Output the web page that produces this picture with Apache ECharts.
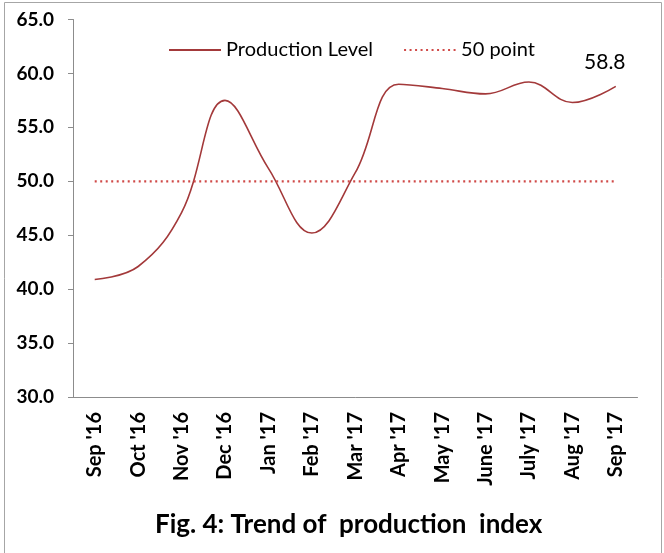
<!DOCTYPE html>
<html>
<head>
<meta charset="utf-8">
<script src="https://cdn.jsdelivr.net/npm/echarts@6/dist/echarts.min.js"></script>
<style>
  html, body { margin: 0; padding: 0; background: #fff; }
  #main { width: 664px; height: 553px; }
</style>
</head>
<body>
<div id="main"></div>
<script>
// data
var months = ["Sep '16", "Oct '16", "Nov '16", "Dec '16", "Jan '17", "Feb '17", "Mar '17",
  "Apr '17", "May '17", "June '17", "July '17", "Aug '17", "Sep '17"];
var production = [40.9, 42.1, 47.1, 57.5, 51.2, 45.2, 50.8, 59.0, 58.6, 58.1, 59.2, 57.3, 58.8];
var fiftyLine = [50, 50, 50, 50, 50, 50, 50, 50, 50, 50, 50, 50, 50];

var font = 'Lato, "Open Sans", sans-serif';

var myChart = echarts.init(document.getElementById('main'));
myChart.setOption({
  animation: false,
  textStyle: { fontFamily: font },
  title: {
    text: 'Fig. 4: Trend of  production  index',
    left: 150,
    top: 507,
    textStyle: { fontFamily: font, fontSize: 26, fontWeight: 'bold', color: '#000' }
  },
  graphic: [{
    type: 'rect',
    shape: { x: 4.5, y: 2.5, width: 657, height: 560 },
    style: { fill: 'none', stroke: '#a6a6a6', lineWidth: 1 },
    silent: true
  }],
  legend: {
    left: 163,
    top: 35,
    itemWidth: 52,
    itemHeight: 12,
    itemGap: 30,
    itemStyle: { opacity: 0, borderWidth: 0 },
    textStyle: { fontFamily: font, fontSize: 20, color: '#000' },
    data: ['Production Level', '50 point']
  },
  grid: { left: 73, right: 26.5, top: 19.5, bottom: 156 },
  xAxis: {
    type: 'category',
    data: months,
    boundaryGap: true,
    axisLine: { lineStyle: { color: '#8c8c8c' } },
    axisTick: { length: 6, lineStyle: { color: '#8c8c8c' } },
    axisLabel: {
      rotate: 90,
      margin: 15,
      interval: 0,
      fontFamily: font,
      fontSize: 20,
      fontWeight: 'bold',
      color: '#000'
    }
  },
  yAxis: {
    type: 'value',
    min: 30,
    max: 65,
    interval: 5,
    axisLine: { show: true, lineStyle: { color: '#8c8c8c' } },
    axisTick: { show: true, length: 5, lineStyle: { color: '#8c8c8c' } },
    splitLine: { show: false },
    axisLabel: {
      margin: 19,
      fontFamily: font,
      fontSize: 19,
      fontWeight: 'bold',
      color: '#000',
      formatter: function (v) { return v.toFixed(1); }
    }
  },
  series: [
    {
      name: 'Production Level',
      type: 'line',
      data: production,
      smooth: 0.4,
      symbol: 'none',
      color: '#a3393a',
      lineStyle: { width: 1.6, color: '#a3393a' },
      markPoint: {
        symbol: 'circle',
        symbolSize: 0,
        data: [{
          coord: [months.length - 1, production[production.length - 1]],
          value: production[production.length - 1]
        }],
        label: {
          show: true,
          position: 'top',
          offset: [-11, -9],
          fontFamily: font,
          fontSize: 21,
          color: '#000',
          formatter: function (p) { return p.value.toFixed(1); }
        }
      }
    },
    {
      name: '50 point',
      type: 'line',
      data: fiftyLine,
      symbol: 'none',
      color: '#d04a48',
      lineStyle: { width: 2.2, type: [2, 3.5], color: '#d04a48' }
    }
  ]
});
</script>
</body>
</html>
